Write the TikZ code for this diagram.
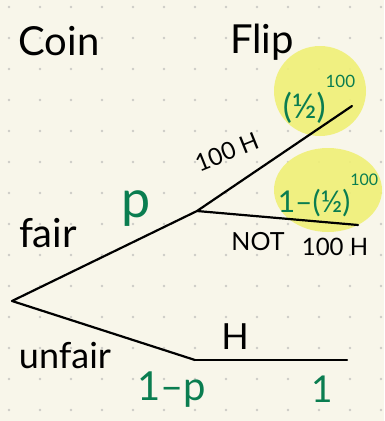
\documentclass[tikz,border=0pt]{standalone}
\usepackage{fontspec}
\setmainfont{Lato}
\definecolor{paper}{RGB}{248, 246, 234}
\definecolor{gridgray}{RGB}{204, 204, 198}
\definecolor{inkgreen}{RGB}{10, 125, 80}
\definecolor{highlight}{RGB}{240, 240, 118}
\newcommand{\hand}[1]{\fontsize{#1}{#1}\selectfont}
\tikzset{
  branch/.style   = {line width=2.2pt, black, line cap=round, line join=round},
  head/.style     = {anchor=base, inner sep=0pt, font=\hand{40}},
  lbl/.style      = {anchor=base, inner sep=0pt},
  prob/.style     = {anchor=base, inner sep=0pt, text=inkgreen},
  hilite/.style   = {fill=highlight, opacity=0.9},
}

\begin{document}
\begin{tikzpicture}[x=1pt, y=-1pt]
  \fill[paper] (0,0) rectangle (384,421);
  \useasboundingbox (0,0) rectangle (384,421);
  \foreach \i in {0,...,12}
    \foreach \j in {0,...,13}
      \fill[gridgray] (9+31*\i, 7+31*\j) circle (1.4);

  % highlighter
  \fill[hilite] (320,91) ellipse [x radius=46, y radius=45];
  \fill[hilite] (328,190) ellipse [x radius=54, y radius=42];

  % tree
  \coordinate (root)    at (12,301);
  \coordinate (fair)    at (197,211);
  \coordinate (unfair)  at (195,360);
  \coordinate (allH)    at (352,106);
  \coordinate (notH)    at (358,225);
  \coordinate (unfairH) at (347,360);
  \draw[branch] (root) -- (fair);
  \draw[branch] (root) -- (unfair);
  \draw[branch] (fair) -- (allH);
  \draw[branch] (fair) -- (notH);
  \draw[branch] (unfair) -- (unfairH);

  % headings
  \node[head] (coin) at (59,55) {Coin};
  \node[head] (flip) at (262,53) {Flip};

  % labels
  \node[lbl, font=\hand{40}] (fairlbl)   at (48,247) {fair};
  \node[lbl, font=\hand{36}] (unfairlbl) at (65,368) {unfair};
  \node[lbl, font=\hand{24}, rotate=22] (hundredH) at (230,160) {100 H};
  \node[lbl, font=\hand{25}] (notlbl)    at (258,250) {NOT};
  \node[lbl, font=\hand{24}] (notH100)   at (335,255) {100 H};
  \node[lbl, font=\hand{36}] (hlbl)      at (235,349) {H};

  % probabilities
  \node[prob, font=\hand{52}] (pfair)   at (136,217) {p};
  \node[prob, font=\hand{40}] (punfair) at (172,400) {1–p};
  \node[prob, font=\hand{37}] (pone)    at (322,402) {1};
  \node[prob, font=\hand{34}] (pall)    at (319,118)
    {(½)\raisebox{0.9em}{\hand{17}100}};
  \node[prob, font=\hand{30}] (pnot)    at (328,212)
    {1–(½)\raisebox{0.9em}{\hand{16}100}};
\end{tikzpicture}
\end{document}
